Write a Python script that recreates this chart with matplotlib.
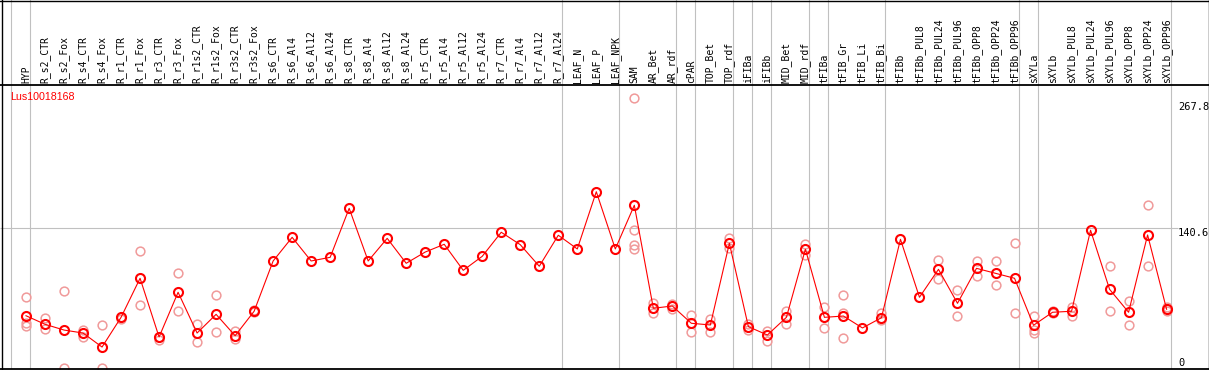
import matplotlib.pyplot as plt
from matplotlib.lines import Line2D

gene = "Lus10018168"

samples = [
    "HYP", "R_s2_CTR", "R_s2_Fox", "R_s4_CTR", "R_s4_Fox", "R_r1_CTR", "R_r1_Fox",
    "R_r3_CTR", "R_r3_Fox", "R_r1s2_CTR", "R_r1s2_Fox", "R_r3s2_CTR", "R_r3s2_Fox",
    "R_s6_CTR", "R_s6_Al4", "R_s6_Al12", "R_s6_Al24", "R_s8_CTR", "R_s8_Al4",
    "R_s8_Al12", "R_s8_Al24", "R_r5_CTR", "R_r5_Al4", "R_r5_Al12", "R_r5_Al24",
    "R_r7_CTR", "R_r7_Al4", "R_r7_Al12", "R_r7_Al24", "LEAF_N", "LEAF_P", "LEAF_NPK",
    "SAM", "AR_Bet", "AR_rdf", "cPAR", "TOP_Bet", "TOP_rdf", "iFIBa", "iFIBb",
    "MID_Bet", "MID_rdf", "tFIBa", "tFIB_Gr", "tFIB_Li", "tFIB_Bi", "tFIBb",
    "tFIBb_PUL8", "tFIBb_PUL24", "tFIBb_PUL96", "tFIBb_OPP8", "tFIBb_OPP24",
    "tFIBb_OPP96", "sXYLa", "sXYLb", "sXYLb_PUL8", "sXYLb_PUL24", "sXYLb_PUL96",
    "sXYLb_OPP8", "sXYLb_OPP24", "sXYLb_OPP96",
]

means = [
    52.6, 44.0, 38.2, 35.2, 21.1, 51.0, 90.3, 31.2, 76.2, 35.2, 54.0, 32.5, 57.1,
    107.7, 131.5, 107.7, 111.4, 160.7, 107.7, 130.5, 105.4, 116.7, 124.5, 98.3, 112.4,
    136.6, 124.1, 102.4, 133.6, 119.8, 177.4, 119.8,
    163.8, 60.1, 62.4, 45.0, 43.3, 125.5, 41.6, 33.2, 51.0, 119.5,
    51.0, 52.3, 40.3, 50.6, 129.5, 71.2, 99.3, 65.1, 100.3, 95.3, 90.3,
    43.0, 56.1, 57.1, 138.6, 79.2, 56.1, 133.9, 59.1,
]

replicates = [
    [71.2, 45.6, 42.3], [50.0, 38.9], [77.5, 0.0], [38.2, 31.5], [43.0, 0.0],
    [51.5, 49.5], [117.4, 63.1], [31.5, 28.2], [95.3, 57.1], [44.0, 25.9],
    [73.2, 35.9], [37.5, 29.2], [58.0, 56.0],
    [], [], [], [], [], [], [], [], [], [], [], [], [], [], [], [], [], [], [],
    [271.4, 138.9, 123.8, 119.5], [65.7, 55.1], [64.4, 59.1], [53.0, 35.9],
    [49.0, 35.9], [131.1, 120.5], [44.3, 38.2], [37.5, 27.5], [57.4, 44.3],
    [125.1, 113.7], [61.1, 40.0], [73.2, 55.7, 29.9], [], [55.7, 48.3], [], [],
    [108.4, 89.3], [78.5, 52.0], [107.7, 92.6], [107.4, 83.2], [125.5, 55.1],
    [52.3, 38.2, 34.9], [57.5, 55.0], [61.7, 52.3], [], [102.4, 57.1],
    [67.7, 43.0], [163.7, 102.4], [61.1, 57.7],
]

# group separators: a line after these sample indices
sep_after = [-1, 0, 28, 31, 34, 35, 37, 38, 39, 41, 42, 45, 52, 53, 60]
y_marks = [267.8, 140.6, 0]

W, H = 1209, 370
step = 19.01      # pixels per column
x_first = 26      # pixel of first column
head_px = 85
bottom_px = 369

fig = plt.figure(figsize=(W / 100, H / 100), dpi=100)
head = fig.add_axes([0, 1 - head_px / H, 1, head_px / H])
ax = fig.add_axes([0, 1 - bottom_px / H, 1, (bottom_px - head_px) / H])

x0 = -x_first / step
x1 = (W - x_first) / step
for a in (head, ax):
    a.set_xlim(x0, x1)
    a.axis("off")
head.set_ylim(0, 1)
ax.set_ylim(-1.0, 284.8)

grid_c = "#c0c0c0"
for s in sep_after:
    head.axvline(s + 0.21, color=grid_c, lw=0.8)
    ax.axvline(s + 0.21, color=grid_c, lw=0.8)
ax.hlines(140.6, x0, (1178 - x_first) / step, color=grid_c, lw=0.8)

# column labels
for i, name in enumerate(samples):
    head.text(i, 2 / head_px, name, rotation=90, ha="center", va="bottom",
              family="DejaVu Sans Mono", fontsize=7)

# replicate points
for i, reps in enumerate(replicates):
    if reps:
        ax.plot([i] * len(reps), reps, "o", mfc="none", mec="#f09a9a",
                ms=6.3, mew=1.1, zorder=3)

xs = list(range(len(samples)))
ax.plot(xs, means, "-", color="red", lw=0.8, zorder=4)
ax.plot(xs, means, "o", mfc="none", mec="red", ms=6.5, mew=1.5, zorder=5)

# scale labels at right
xr = (1178 - x_first) / step
for v in y_marks:
    ax.text(xr, v, f"{v:g}", ha="left", va="bottom" if v == 0 else "top",
            family="DejaVu Sans Mono", fontsize=7.5)

ax.text(10 / W, 1 - 12 / (bottom_px - head_px), gene, transform=ax.transAxes,
        ha="left", va="center", color="red", family="Liberation Sans", fontsize=7.7)

# frame
def fline(xa, ya, xb, yb, lw=1.0):
    fig.add_artist(Line2D([xa / W, xb / W], [1 - ya / H, 1 - yb / H],
                          transform=fig.transFigure, color="black", lw=lw))

fline(1.5, 0, 1.5, bottom_px)
fline(0, 0.5, W, 0.5)
fline(W - 0.5, 0, W - 0.5, bottom_px)
fline(0, head_px, W, head_px, lw=1.3)
fline(0, bottom_px, W, bottom_px, lw=1.3)

fig.savefig("out.png", dpi=100)
